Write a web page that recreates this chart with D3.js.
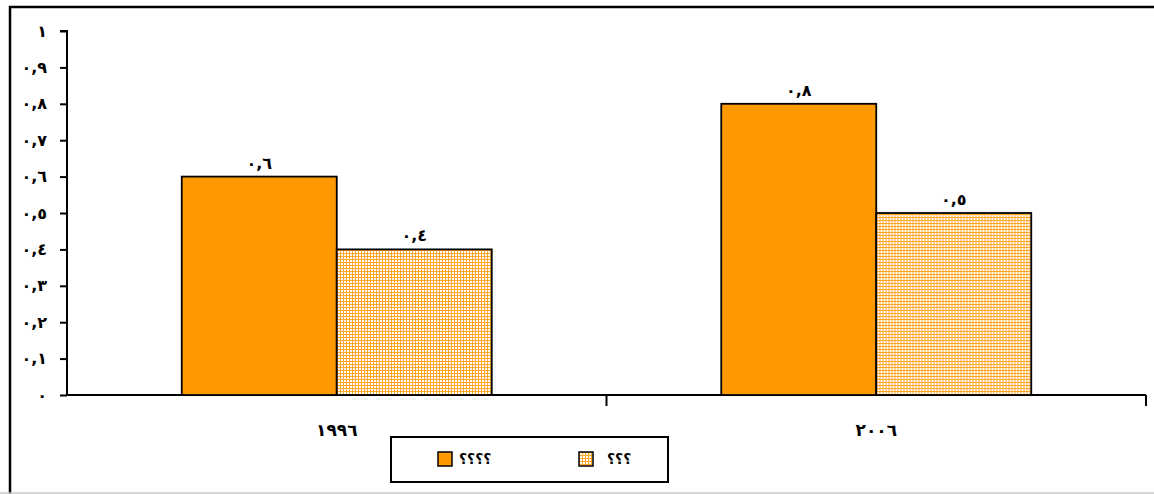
<!DOCTYPE html>
<meta charset="utf-8" />
<script src="https://d3js.org/d3.v7.min.js"></script>
<style>
    body { margin: 0; background: #fff; }
    svg { display: block; }
</style>
<div id="my_dataviz"></div>
<script>
    // data
    const years = ['١٩٩٦', '٢٠٠٦']
    const seriesNames = ['؟؟؟؟', '؟؟؟']
    const series1 = [0.6, 0.8]
    const series2 = [0.4, 0.5]
    const valueLabels1 = ['٠,٦', '٠,٨']
    const valueLabels2 = ['٠,٤', '٠,٥']
    const tickValues = [0, 0.1, 0.2, 0.3, 0.4, 0.5, 0.6, 0.7, 0.8, 0.9, 1]
    const tickLabels = ['٠', '٠,١', '٠,٢', '٠,٣', '٠,٤', '٠,٥', '٠,٦', '٠,٧', '٠,٨', '٠,٩', '١']

    const W = 1154, H = 494
    const margin = { top: 31, left: 67, right: 8, bottom: 99 }
    const width = W - margin.left - margin.right,
        height = H - margin.top - margin.bottom

    const orange = '#ff9900'
    const font = "'DejaVu Sans', sans-serif"

    const root = d3.select('#my_dataviz').append('svg')
        .attr('width', W).attr('height', H)

    // grid pattern for the second series
    const defs = root.append('defs')
    const pat = defs.append('pattern')
        .attr('id', 'grid')
        .attr('patternUnits', 'userSpaceOnUse')
        .attr('width', 3).attr('height', 3)
    pat.append('rect').attr('width', 3).attr('height', 3).attr('fill', '#fff')
    pat.append('rect').attr('x', 0).attr('y', 0).attr('width', 1).attr('height', 3).attr('fill', '#ffa629')
    pat.append('rect').attr('x', 0).attr('y', 0).attr('width', 3).attr('height', 1).attr('fill', '#ffa629')

    // outer frame (cut at right / bottom like the picture)
    root.append('path')
        .attr('d', `M10,${H + 5} V7 H${W + 5}`)
        .attr('fill', 'none').attr('stroke', '#000').attr('stroke-width', 2.5)
    root.append('line')
        .attr('x1', 0).attr('x2', W).attr('y1', H - 1).attr('y2', H - 1)
        .attr('stroke', '#c8c8c8').attr('stroke-width', 1.5)

    const svg = root.append('g')
        .attr('transform', `translate(${margin.left},${margin.top})`)

    const x0 = d3.scaleBand().domain(years).range([0, width]).paddingInner(0).paddingOuter(0)
    const y = d3.scaleLinear().domain([0, 1]).range([height, 0])
    const barW = 155
    const x1 = d3.scaleBand().domain([0, 1]).range([x0.bandwidth() / 2 - barW, x0.bandwidth() / 2 + barW])

    // y axis
    const yAxis = svg.append('g')
        .call(d3.axisLeft(y).tickValues(tickValues).tickSize(7).tickPadding(13)
            .tickFormat((d, i) => tickLabels[i]))
    yAxis.select('.domain').attr('stroke-width', 2).attr('d', `M0,${height}V0H-7`)
    yAxis.selectAll('line').attr('stroke-width', 2)
    yAxis.selectAll('text')
        .attr('font-family', font).attr('font-weight', 'bold').attr('font-size', 16)
        .attr('letter-spacing', 2)
        .attr('fill', '#000').attr('direction', 'ltr')

    // x axis
    const xAxis = svg.append('g')
        .attr('transform', `translate(0,${height})`)
        .call(d3.axisBottom(x0).tickSize(0).tickPadding(29))
    xAxis.select('.domain').attr('stroke-width', 2).attr('d', `M0,0H${width}`)
    xAxis.selectAll('text')
        .attr('font-family', font).attr('font-weight', 'bold').attr('font-size', 17)
        .attr('letter-spacing', 5).attr('fill', '#000')
    // category dividers
    svg.append('g').selectAll('line')
        .data(years)
        .join('line')
        .attr('x1', (d) => x0(d) + x0.bandwidth())
        .attr('x2', (d) => x0(d) + x0.bandwidth())
        .attr('y1', height).attr('y2', height + 11)
        .attr('stroke', '#000').attr('stroke-width', 2)

    // bars
    const rows = years.map((yr, i) => ({ yr, vals: [series1[i], series2[i]], labs: [valueLabels1[i], valueLabels2[i]] }))
    const groups = svg.selectAll('.grp')
        .data(rows)
        .join('g')
        .attr('class', 'grp')
        .attr('transform', (d) => `translate(${x0(d.yr)},0)`)

    groups.selectAll('rect')
        .data((d) => d.vals.map((v, k) => ({ v, k })))
        .join('rect')
        .attr('x', (d) => x1(d.k))
        .attr('width', x1.bandwidth())
        .attr('y', (d) => y(d.v))
        .attr('height', (d) => height - y(d.v))
        .attr('fill', (d) => (d.k === 0 ? orange : 'url(#grid)'))
        .attr('stroke', '#000').attr('stroke-width', 1.8)

    groups.selectAll('.lab')
        .data((d) => d.vals.map((v, k) => ({ v, k, t: d.labs[k] })))
        .join('text')
        .attr('class', 'lab')
        .attr('x', (d) => x1(d.k) + x1.bandwidth() / 2)
        .attr('y', (d) => y(d.v) - 8)
        .attr('text-anchor', 'middle')
        .attr('font-family', font).attr('font-weight', 'bold').attr('font-size', 16)
        .attr('letter-spacing', 2)
        .attr('direction', 'ltr')
        .text((d) => d.t)

    // legend
    const legend = root.append('g').attr('transform', 'translate(391,437)')
    legend.append('rect').attr('width', 277).attr('height', 45)
        .attr('fill', '#fff').attr('stroke', '#000').attr('stroke-width', 2)
    const items = legend.selectAll('.item')
        .data(seriesNames)
        .join('g')
        .attr('class', 'item')
        .attr('transform', (d, i) => `translate(${47 + i * 141},15)`)
    items.append('rect')
        .attr('width', 14).attr('height', 14)
        .attr('fill', (d, i) => (i === 0 ? orange : 'url(#grid)'))
        .attr('stroke', '#000').attr('stroke-width', 1.5)
    items.append('text')
        .attr('x', (d, i) => (i === 0 ? 21 : 28))
        .attr('y', 12)
        .attr('font-family', font).attr('font-weight', 'bold').attr('font-size', 14)
        .text((d) => d)
</script>
